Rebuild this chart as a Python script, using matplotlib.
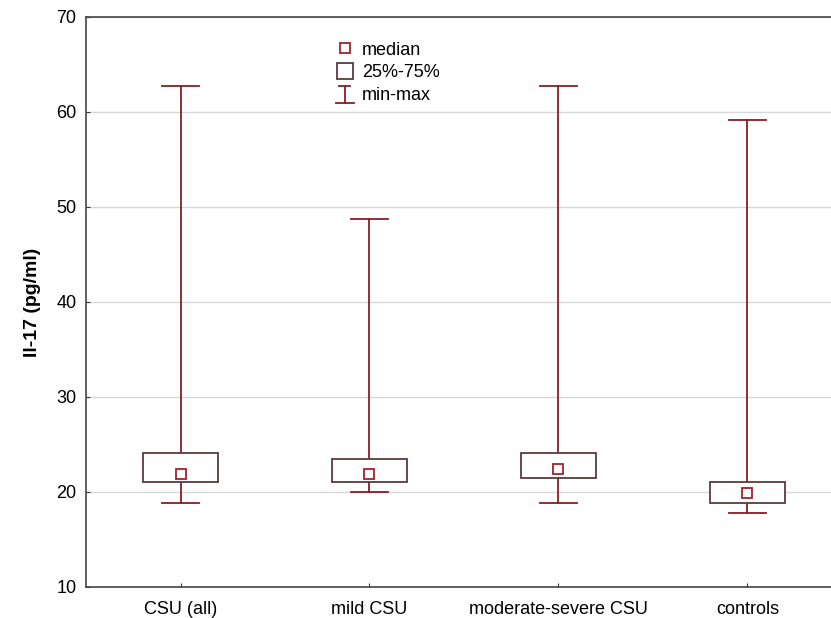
import numpy as np
import matplotlib.pyplot as plt
from matplotlib.patches import Rectangle
from matplotlib.lines import Line2D
from matplotlib.legend_handler import HandlerBase

plt.rcParams['font.family'] = ['Liberation Sans', 'DejaVu Sans']

groups = ['CSU (all)', 'mild CSU', 'moderate-severe CSU', 'controls']
medians = [21.9, 21.9, 22.4, 19.9]
q1 = [21.0, 21.0, 21.5, 18.8]
q3 = [24.1, 23.5, 24.1, 21.0]
mins = [18.8, 20.0, 18.8, 17.8]
maxs = [62.7, 48.7, 62.7, 59.2]

whisker_col = '#8b1c24'
box_col = '#5a3a3c'
med_col = '#a3222c'


class BoxHandler(HandlerBase):
    def create_artists(self, legend, orig, xd, yd, width, height, fontsize, trans):
        w = width*0.9
        h = height*1.25
        r = Rectangle((xd + (width-w)/2, yd - (h-height)/2), w, h,
                      facecolor='white', edgecolor=box_col, lw=1.3, transform=trans)
        return [r]


class RangeHandler(HandlerBase):
    def create_artists(self, legend, orig, xd, yd, width, height, fontsize, trans):
        cx = xd + width/2
        top = yd + height*1.05
        bot = yd - height*0.25
        ln = [Line2D([cx, cx], [bot, top], color=whisker_col, lw=1.3, transform=trans),
              Line2D([cx-width*0.3, cx+width*0.3], [top, top], color=whisker_col, lw=1.3, transform=trans),
              Line2D([cx-width*0.5, cx+width*0.5], [bot, bot], color=whisker_col, lw=1.3, transform=trans)]
        return ln


fig = plt.figure(figsize=(8.31, 6.18), dpi=100)
ax = fig.add_axes([0.1035, 0.0502, 0.9097, 0.9223])

pos = np.arange(1, len(groups)+1)
box_w = 0.4
cap_w = 0.2

for i, p in enumerate(pos):
    # whiskers
    ax.plot([p, p], [q3[i], maxs[i]], color=whisker_col, lw=1.3, zorder=3)
    ax.plot([p, p], [mins[i], q1[i]], color=whisker_col, lw=1.3, zorder=3)
    ax.plot([p-cap_w/2, p+cap_w/2], [maxs[i], maxs[i]], color=whisker_col, lw=1.3, zorder=3)
    ax.plot([p-cap_w/2, p+cap_w/2], [mins[i], mins[i]], color=whisker_col, lw=1.3, zorder=3)
    # box
    ax.add_patch(Rectangle((p-box_w/2, q1[i]), box_w, q3[i]-q1[i],
                           facecolor='white', edgecolor=box_col, lw=1.3, zorder=4))

ax.plot(pos, medians, ls='none', marker='s', ms=7, mfc='white',
        mec=med_col, mew=1.3, zorder=5)

ax.set_xlim(0.5, 4.5)
ax.set_ylim(10, 70)
ax.set_xticks(pos)
ax.set_xticklabels(groups)
ax.set_yticks(np.arange(10, 71, 10))
ax.yaxis.grid(True, color='#d8d8d8', lw=1)
ax.set_axisbelow(True)
ax.tick_params(direction='in', length=3, labelsize=13, colors='#333333',
               labelcolor='black')
ax.tick_params(axis='x', pad=10)
ax.tick_params(axis='y', pad=7)
for s in ax.spines.values():
    s.set_color('#444444')
    s.set_linewidth(1.2)
ax.set_ylabel('Il-17 (pg/ml)', fontsize=14, fontweight='bold', labelpad=11)

h_med = Line2D([], [], ls='none', marker='s', ms=7, mfc='white', mec=med_col, mew=1.3)
h_box = Rectangle((0, 0), 1, 1)
h_rng = Line2D([], [])
ax.legend([h_med, h_box, h_rng], ['median', '25%-75%', 'min-max'],
          handler_map={h_box: BoxHandler(), h_rng: RangeHandler()},
          loc='upper left', bbox_to_anchor=(0.309, 0.985), frameon=False,
          fontsize=13, handlelength=1.0, handletextpad=0.45, labelspacing=0.3)

fig.savefig('out.png', dpi=100)
